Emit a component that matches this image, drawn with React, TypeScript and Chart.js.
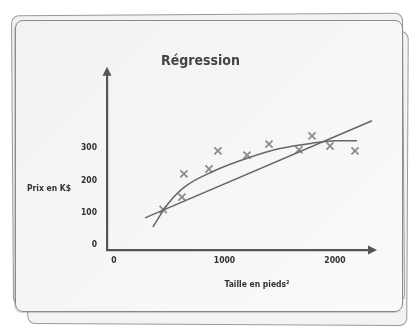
import React, { useEffect, useRef } from "react";
import { Chart, registerables } from "chart.js";

Chart.register(...registerables);

// Observed data points (size in sq ft, price in K$)
const pointSizes = [445, 633, 615, 860, 941, 1204, 1403, 1674, 1792, 1955, 2181];
const pointPrices = [110, 220, 148, 235, 291, 278, 312, 294, 337, 306, 291];

// Linear regression line (two end points)
const lineSizes = [281, 2335];
const linePrices = [84, 384];

// Non-linear regression curve
const curveSizes = [353, 480, 640, 900, 1204, 1500, 1800, 2000, 2199];
const curvePrices = [56, 124, 180, 228, 268, 298, 315, 322, 322];

const xTicks = [0, 1000, 2000];
const yTicks = [0, 100, 200, 300];

const titleText = "Régression";
const xTitle = "Taille en pieds²";
const yTitle = "Prix en K$";

const FONT = "'Liberation Sans Narrow', 'DejaVu Sans Condensed', 'Roboto', sans-serif";

const zip = (xs: number[], ys: number[]) => xs.map((x, i) => ({ x, y: ys[i] }));

const decorPlugin = {
  id: "decor",
  afterDraw(chart: any) {
    const { ctx, chartArea } = chart;
    const x0 = chartArea.left;
    const y0 = chartArea.bottom;
    ctx.save();
    ctx.fillStyle = "#555";
    // y arrow
    ctx.beginPath();
    ctx.moveTo(x0, chartArea.top - 5);
    ctx.lineTo(x0 - 4.5, chartArea.top + 4);
    ctx.lineTo(x0 + 4.5, chartArea.top + 4);
    ctx.closePath();
    ctx.fill();
    // x arrow
    ctx.beginPath();
    ctx.moveTo(chartArea.right + 4, y0);
    ctx.lineTo(chartArea.right - 5, y0 - 4.5);
    ctx.lineTo(chartArea.right - 5, y0 + 4.5);
    ctx.closePath();
    ctx.fill();
    // axis titles
    ctx.fillStyle = "#333";
    ctx.font = "bold 8.5px " + FONT;
    ctx.textAlign = "center";
    ctx.textBaseline = "middle";
    ctx.fillText(yTitle, 49, 189);
    ctx.fillText(xTitle, 257, 285);
    ctx.restore();
  },
};

export default function App() {
  const ref = useRef<HTMLCanvasElement | null>(null);

  useEffect(() => {
    if (!ref.current) return;
    const chart = new Chart(ref.current, {
      type: "scatter",
      data: {
        datasets: [
          {
            type: "line",
            data: zip(lineSizes, linePrices),
            borderColor: "#666",
            borderWidth: 1.5,
            pointRadius: 0,
            fill: false,
            clip: false,
          } as any,
          {
            type: "line",
            data: zip(curveSizes, curvePrices),
            borderColor: "#666",
            borderWidth: 1.5,
            pointRadius: 0,
            fill: false,
            cubicInterpolationMode: "monotone",
            clip: false,
          } as any,
          {
            type: "scatter",
            data: zip(pointSizes, pointPrices),
            pointStyle: "crossRot",
            pointRadius: 5,
            borderColor: "#8c8c8c",
            borderWidth: 1.8,
            clip: false,
          } as any,
        ],
      },
      options: {
        animation: false,
        responsive: false,
        maintainAspectRatio: false,
        layout: { padding: { left: 28, right: 38, top: 0, bottom: 0 } },
        plugins: {
          legend: { display: false },
          tooltip: { enabled: false },
          title: {
            display: true,
            text: titleText,
            color: "#444",
            font: { family: FONT, size: 14, weight: "bold" },
            padding: { top: 53, bottom: 2 },
          },
        },
        scales: {
          x: {
            type: "linear",
            min: -63,
            max: 2344,
            afterBuildTicks: (s: any) => {
              s.ticks = xTicks.map((v) => ({ value: v }));
            },
            afterFit: (s: any) => {
              s.height = 78;
            },
            grid: { display: false, drawTicks: false, tickLength: 0 },
            border: { display: true, color: "#555", width: 2.2 },
            ticks: {
              color: "#333",
              padding: 6,
              font: { family: FONT, size: 8.5, weight: "bold" },
              maxRotation: 0,
              callback: (v: any) => String(v),
            },
          },
          y: {
            type: "linear",
            min: -15,
            max: 535,
            afterBuildTicks: (s: any) => {
              s.ticks = yTicks.map((v) => ({ value: v }));
            },
            afterFit: (s: any) => {
              s.width = 79;
            },
            grid: { display: false, drawTicks: false, tickLength: 0 },
            border: { display: true, color: "#555", width: 2.2 },
            ticks: {
              color: "#333",
              padding: 10,
              font: { family: FONT, size: 8.5, weight: "bold" },
              callback: (v: any) => String(v),
            },
          },
        },
      },
      plugins: [decorPlugin],
    } as any);
    return () => chart.destroy();
  }, []);

  const card: React.CSSProperties = {
    position: "absolute",
    boxSizing: "border-box",
    borderRadius: 8,
  };

  return (
    <div
      style={{
        position: "fixed",
        left: 0,
        top: 0,
        width: 411,
        height: 328,
        background: "#ffffff",
        overflow: "hidden",
      }}
    >
      <div
        style={{
          ...card,
          left: 28,
          top: 30,
          width: 380,
          height: 295,
          border: "1.5px solid #9a9a9a",
          background: "#f3f3f3",
          transform: "rotate(0.3deg)",
        }}
      />
      <div
        style={{
          ...card,
          left: 12,
          top: 14,
          width: 392,
          height: 290,
          border: "1.5px solid #999",
          background: "#f3f3f3",
          transform: "rotate(-0.4deg)",
        }}
      />
      <div
        style={{
          ...card,
          left: 15,
          top: 20,
          width: 388,
          height: 292,
          border: "1.5px solid #8a8a8a",
          background: "linear-gradient(135deg, #f2f2f2, #fafafa)",
          boxShadow: "-1px 1px 1px rgba(0,0,0,0.18)",
        }}
      />
      <canvas
        ref={ref}
        width={411}
        height={328}
        style={{ position: "absolute", left: 0, top: 0, width: 411, height: 328 }}
      />
    </div>
  );
}
